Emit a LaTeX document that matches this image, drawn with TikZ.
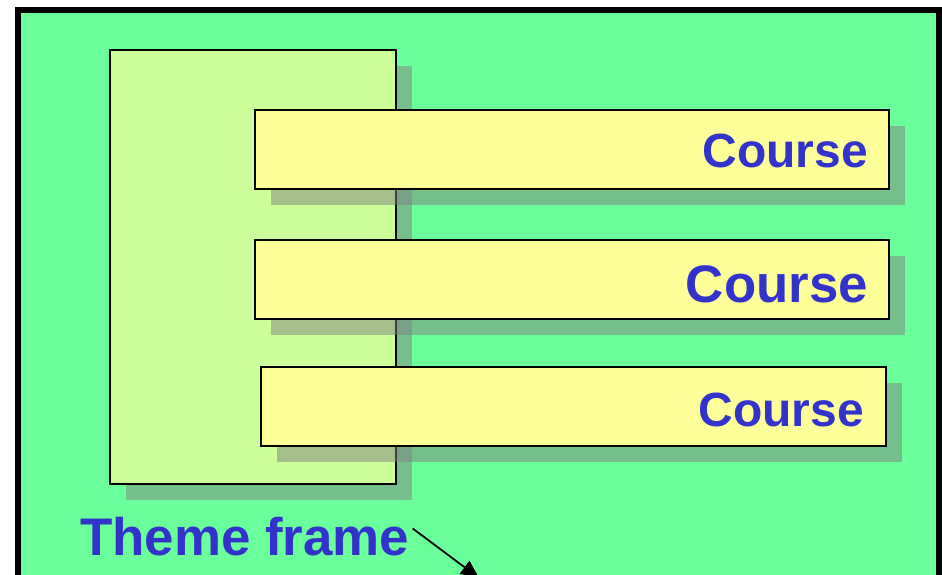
\documentclass[tikz,border=0pt]{standalone}
\usepackage{fontspec}
\setmainfont{Liberation Sans}
\usetikzlibrary{arrows.meta}
\definecolor{bggreen}{RGB}{106,255,155}
\definecolor{lightgreen}{RGB}{204,255,153}
\definecolor{paleyellow}{RGB}{255,255,153}
\definecolor{txtblue}{RGB}{51,51,204}
\tikzset{
  panel/.style={draw=black, line width=1.6pt, inner sep=0pt, outer sep=0pt, anchor=north west},
  shade/.style={fill=gray, fill opacity=0.5},
  coursetxt/.style={text=txtblue, font=\bfseries, inner sep=0pt, anchor=base east},
}
\begin{document}
\begin{tikzpicture}[x=1pt,y=-1pt]
\useasboundingbox (0,0) rectangle (942,574);
\begin{scope}
\clip (0,0) rectangle (942,574);
\fill[white] (0,0) rectangle (942,574);
\draw[fill=bggreen, line width=6pt] (18,10) rectangle (939,610);
% theme frame box
\fill[shade] (126,66) rectangle (412,500);
\node[panel, fill=lightgreen, minimum width=286pt, minimum height=434pt] (frame) at (110,50) {};
% course boxes
\fill[shade] (271,126) rectangle (905,205);
\fill[shade] (271,256) rectangle (905,335);
\fill[shade] (277,383) rectangle (902,462);
\node[panel, fill=paleyellow, minimum width=634pt, minimum height=79pt] (c1) at (255,110) {};
\node[panel, fill=paleyellow, minimum width=634pt, minimum height=79pt] (c2) at (255,240) {};
\node[panel, fill=paleyellow, minimum width=625pt, minimum height=79pt] (c3) at (261,367) {};
\node[coursetxt, font=\fontsize{48}{50}\selectfont\bfseries] (t1) at (868,167) {Course};
\node[coursetxt, font=\fontsize{52.8}{56}\selectfont\bfseries] (t2) at (868,302) {Course};
\node[coursetxt, font=\fontsize{48}{50}\selectfont\bfseries] (t3) at (864,426) {Course};
% label and arrow
\node[text=txtblue, inner sep=0pt, anchor=base west, font=\fontsize{52.9}{58}\selectfont\bfseries] (theme) at (80,555) {Theme frame};
\coordinate (tip) at (479,578);
\draw[line width=1.8pt, -{Triangle[length=18pt, width=16pt]}] ([xshift=3pt,yshift=-12pt]theme.north east) -- (tip);
\end{scope}
\end{tikzpicture}
\end{document}
